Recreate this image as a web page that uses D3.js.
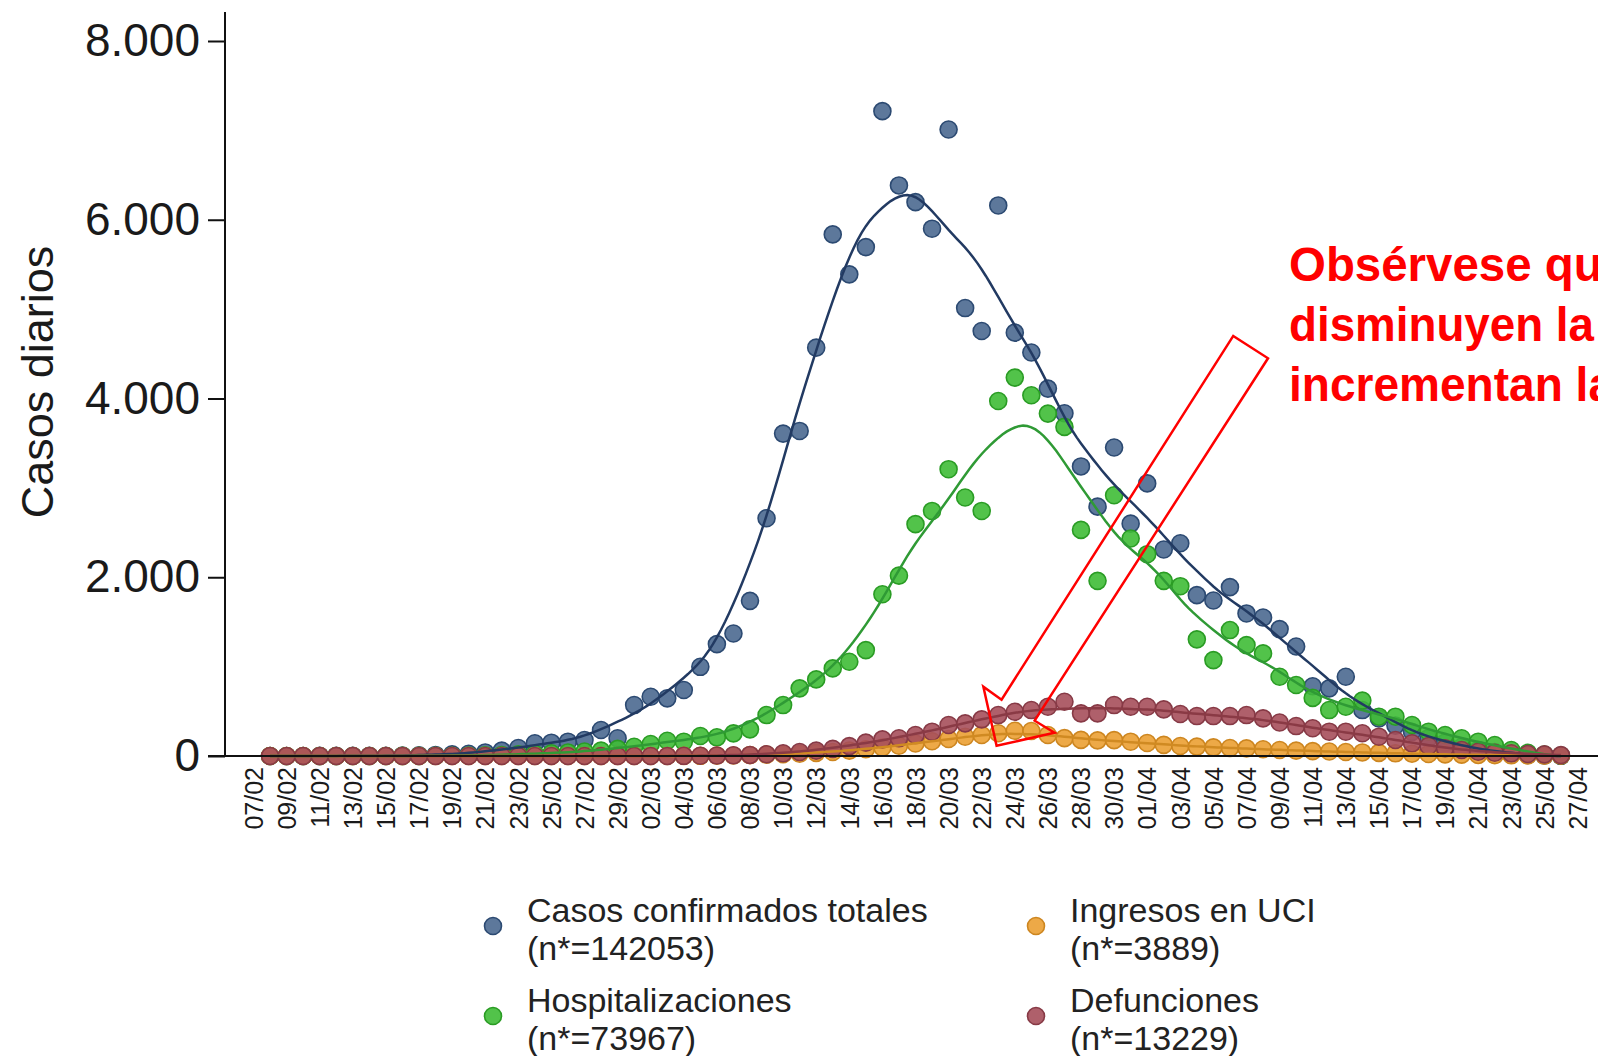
<!DOCTYPE html>
<html>
<head>
<meta charset="utf-8">
<script src="https://cdn.jsdelivr.net/npm/d3@7"></script>
<style>
body { margin: 0; background: #fff; }
text { font-family: "Liberation Sans", Arial, sans-serif; }
</style>
</head>
<body>
<div id="plot"></div>
<script>
const PLOT_WIDTH = 1598;
const PLOT_HEIGHT = 1056;

// Dias con datos (08/02 a 26/04 de 2020)
const fechas = [
    "08/02", "09/02", "10/02", "11/02", "12/02", "13/02", "14/02", "15/02", "16/02", "17/02",
    "18/02", "19/02", "20/02", "21/02", "22/02", "23/02", "24/02", "25/02", "26/02", "27/02",
    "28/02", "29/02", "01/03", "02/03", "03/03", "04/03", "05/03", "06/03", "07/03", "08/03",
    "09/03", "10/03", "11/03", "12/03", "13/03", "14/03", "15/03", "16/03", "17/03", "18/03",
    "19/03", "20/03", "21/03", "22/03", "23/03", "24/03", "25/03", "26/03", "27/03", "28/03",
    "29/03", "30/03", "31/03", "01/04", "02/04", "03/04", "04/04", "05/04", "06/04", "07/04",
    "08/04", "09/04", "10/04", "11/04", "12/04", "13/04", "14/04", "15/04", "16/04", "17/04",
    "18/04", "19/04", "20/04", "21/04", "22/04", "23/04", "24/04", "25/04", "26/04"
];

const etiquetas_x = [
    "07/02", "09/02", "11/02", "13/02", "15/02", "17/02", "19/02", "21/02", "23/02", "25/02",
    "27/02", "29/02", "02/03", "04/03", "06/03", "08/03", "10/03", "12/03", "14/03", "16/03",
    "18/03", "20/03", "22/03", "24/03", "26/03", "28/03", "30/03", "01/04", "03/04", "05/04",
    "07/04", "09/04", "11/04", "13/04", "15/04", "17/04", "19/04", "21/04", "23/04", "25/04",
    "27/04"
];

const ticks_y = [0, 2000, 4000, 6000, 8000];

const casos = [
    0, 0, 0, 1, 1, 2, 2, 3, 5, 8,
    12, 18, 25, 40, 60, 90, 142, 149, 160, 179,
    291, 198, 570, 663, 645, 738, 998, 1252, 1371, 1736,
    2660, 3607, 3637, 4569, 5836, 5389, 5694, 7215, 6384, 6197,
    5900, 7010, 5012, 4755, 6160, 4737, 4515, 4111, 3835, 3240,
    2790, 3452, 2600, 3050, 2310, 2380, 1800, 1740, 1890, 1595,
    1550, 1420, 1225, 780, 757, 887, 514, 420, 340, 270,
    200, 150, 100, 70, 45, 25, 12, 5, 2
];

const hospitalizaciones = [
    0, 0, 0, 0, 0, 0, 0, 0, 1, 1,
    2, 3, 5, 8, 12, 18, 25, 30, 40, 50,
    60, 80, 104, 134, 171, 160, 224, 209, 253, 298,
    458, 570, 757, 857, 980, 1054, 1185, 1810, 2018, 2594,
    2742, 3209, 2892, 2742, 3972, 4234, 4036, 3831, 3682, 2530,
    1960, 2918, 2434, 2258, 1960, 1900, 1305, 1073, 1409, 1241,
    1148, 887, 794, 650, 514, 551, 620, 440, 440, 347,
    272, 235, 198, 160, 123, 67, 35, 15, 5
];

const uci = [
    0, 0, 0, 0, 0, 0, 0, 0, 0, 0,
    0, 0, 0, 0, 0, 0, 0, 0, 0, 0,
    0, 0, 0, 0, 0, 1, 2, 4, 6, 10,
    15, 20, 25, 35, 45, 60, 75, 95, 115, 140,
    165, 190, 215, 235, 254, 283, 280, 235, 200, 180,
    175, 178, 160, 145, 125, 112, 105, 97, 90, 85,
    75, 67, 60, 55, 50, 45, 40, 35, 30, 26,
    22, 18, 15, 12, 10, 8, 6, 4, 3
];

const defunciones = [
    0, 0, 0, 0, 0, 0, 0, 0, 0, 0,
    0, 0, 0, 0, 0, 0, 0, 0, 0, 0,
    0, 0, 0, 0, 0, 2, 3, 5, 8, 12,
    20, 30, 45, 60, 80, 110, 150, 186, 198, 235,
    272, 347, 365, 410, 458, 495, 514, 551, 607, 477,
    477, 570, 551, 551, 522, 470, 447, 447, 447, 458,
    421, 375, 335, 310, 272, 272, 254, 216, 179, 142,
    112, 86, 67, 48, 37, 30, 22, 18, 10
];

const nombres = ["Casos confirmados totales", "Hospitalizaciones", "Ingresos en UCI", "Defunciones"];
const totales = ["(n*=142053)", "(n*=73967)", "(n*=3889)", "(n*=13229)"];

const nota = ["Obsérvese que", "disminuyen la", "incrementan la"];

// flecha de la nota, en dias desde 07/02 y casos
const flecha_dias = [59.2, 61.3, 47.2, 48.4, 44.9, 44.1, 45.2];
const flecha_valores = [4700, 4450, 395, 260, 115, 775, 630];


var svg = d3.select('#plot')
    .append('svg')
    .attr('width', PLOT_WIDTH)
    .attr('height', PLOT_HEIGHT);

svg.append('rect')
    .attr('width', PLOT_WIDTH)
    .attr('height', PLOT_HEIGHT)
    .attr('fill', '#fff');

let parse = d3.utcParse('%d/%m/%Y');
let to_date = s => parse(s + '/2020');
let inicio = to_date('07/02');

let x = d3.scaleUtc()
    .domain([inicio, to_date('27/04')])
    .range([253.5, 1577.5]);

let y = d3.scaleLinear()
    .domain([0, 8000])
    .range([756, 41]);

let es = d3.formatLocale({decimal: ',', thousands: '.', grouping: [3], currency: ['', '€']});

let series = [
    {valores: casos, fill: '#4b6990', stroke: '#2c4a72', line: '#223a62'},
    {valores: hospitalizaciones, fill: '#3fbd36', stroke: '#2a9c24', line: '#2f9a35'},
    {valores: uci, fill: '#eba033', stroke: '#cd8620', line: '#d08a22'},
    {valores: defunciones, fill: '#a64f5b', stroke: '#873a46', line: '#8a3a45'}
];

let dias = fechas.map(f => (to_date(f) - inicio) / 864e5);

function dia_a_fecha(d) {
    return new Date(inicio.getTime() + d * 864e5);
}

// regresion local lineal (pesos tricubicos) para la linea suavizada
function suavizar(xs, ys, h, paso) {
    let out = [];
    for (let x0 = xs[0]; x0 <= xs[xs.length - 1] + 1e-9; x0 += paso) {
        let sw = 0, sx = 0, sy = 0, sxx = 0, sxy = 0;
        for (let k = 0; k < xs.length; k++) {
            let d = Math.abs(xs[k] - x0) / h;
            if (d >= 1) continue;
            let w = Math.pow(1 - d * d * d, 3);
            sw += w;
            sx += w * xs[k];
            sy += w * ys[k];
            sxx += w * xs[k] * xs[k];
            sxy += w * xs[k] * ys[k];
        }
        let mx = sx / sw, my = sy / sw;
        let vx = sxx / sw - mx * mx;
        let b = vx > 1e-9 ? (sxy / sw - mx * my) / vx : 0;
        out.push([x0, Math.max(0, my + b * (x0 - mx))]);
    }
    return out;
}

// puntos
series.forEach(s => {
    svg.append('g')
        .selectAll('circle')
        .data(s.valores)
        .enter()
        .append('circle')
        .attr('cx', (d, i) => x(to_date(fechas[i])))
        .attr('cy', d => y(d))
        .attr('r', 8.5)
        .attr('fill', s.fill)
        .attr('fill-opacity', 0.9)
        .attr('stroke', s.stroke)
        .attr('stroke-width', 1.6);
});

// lineas suavizadas
let linea = d3.line()
    .x(d => x(dia_a_fecha(d[0])))
    .y(d => y(d[1]));

series.forEach(s => {
    svg.append('path')
        .datum(suavizar(dias, s.valores, 5, 0.25))
        .attr('d', linea)
        .attr('fill', 'none')
        .attr('stroke', s.line)
        .attr('stroke-width', 2.5);
});

// eje y
svg.append('g')
    .attr('transform', 'translate(225,0)')
    .call(d3.axisLeft(y).tickValues(ticks_y).tickFormat(es.format(',')).tickSize(17).tickPadding(8))
    .call(g => g.select('.domain').remove())
    .call(g => g.selectAll('line').attr('stroke', '#111').attr('stroke-width', 2))
    .call(g => g.selectAll('text')
        .attr('font-size', 46)
        .attr('font-family', '"Liberation Sans", Arial, sans-serif')
        .attr('fill', '#1a1a1a'));

svg.append('line')
    .attr('x1', 225).attr('x2', 225)
    .attr('y1', 12).attr('y2', y(0))
    .attr('stroke', '#111')
    .attr('stroke-width', 2);

// eje x
svg.append('g')
    .attr('transform', `translate(0,${y(0)})`)
    .call(d3.axisBottom(x)
        .tickValues(etiquetas_x.map(to_date))
        .tickFormat((d, i) => etiquetas_x[i])
        .tickSize(0))
    .call(g => g.select('.domain').remove())
    .call(g => g.selectAll('text')
        .attr('transform', 'rotate(-90)')
        .attr('x', -11)
        .attr('y', 0)
        .attr('dy', '0.35em')
        .attr('text-anchor', 'end')
        .attr('font-size', 25)
        .attr('font-family', '"Liberation Sans", Arial, sans-serif')
        .attr('fill', '#1a1a1a'));

svg.append('line')
    .attr('x1', 208).attr('x2', PLOT_WIDTH)
    .attr('y1', y(0)).attr('y2', y(0))
    .attr('stroke', '#111')
    .attr('stroke-width', 2);

svg.append('text')
    .attr('transform', 'translate(53,382) rotate(-90)')
    .attr('text-anchor', 'middle')
    .attr('font-size', 45)
    .attr('fill', '#1a1a1a')
    .text('Casos diarios');

// leyenda
let leyenda_x = [493, 493, 1036, 1036];
let leyenda_y = [926, 1016, 926, 1016];
series.forEach((s, i) => {
    let g = svg.append('g');
    g.append('circle')
        .attr('cx', leyenda_x[i])
        .attr('cy', leyenda_y[i])
        .attr('r', 8.5)
        .attr('fill', s.fill)
        .attr('fill-opacity', 0.9)
        .attr('stroke', s.stroke)
        .attr('stroke-width', 1.6);
    g.append('text')
        .attr('x', leyenda_x[i] + 34)
        .attr('y', leyenda_y[i] - 4)
        .attr('font-size', 34)
        .attr('fill', '#222')
        .text(nombres[i]);
    g.append('text')
        .attr('x', leyenda_x[i] + 34)
        .attr('y', leyenda_y[i] + 34)
        .attr('font-size', 34)
        .attr('fill', '#222')
        .text(totales[i]);
});

// nota en rojo (cortada en el borde derecho, como en el original)
let nota_largos = [340, 305, 325];
let nota_y = [281, 341, 401];
nota.forEach((t, i) => {
    svg.append('text')
        .attr('x', 1289)
        .attr('y', nota_y[i])
        .attr('font-family', 'Lato, "Open Sans", sans-serif')
        .attr('font-weight', 700)
        .attr('font-size', 48)
        .attr('fill', '#ff0000')
        .attr('textLength', nota_largos[i])
        .attr('lengthAdjust', 'spacingAndGlyphs')
        .text(t);
});

let flecha = flecha_dias.map((d, i) => [x(dia_a_fecha(d)), y(flecha_valores[i])]);
svg.append('polygon')
    .attr('points', flecha.map(p => p.join(',')).join(' '))
    .attr('fill', 'none')
    .attr('stroke', '#ff0000')
    .attr('stroke-width', 2.5)
    .attr('stroke-linejoin', 'miter');
</script>
</body>
</html>
